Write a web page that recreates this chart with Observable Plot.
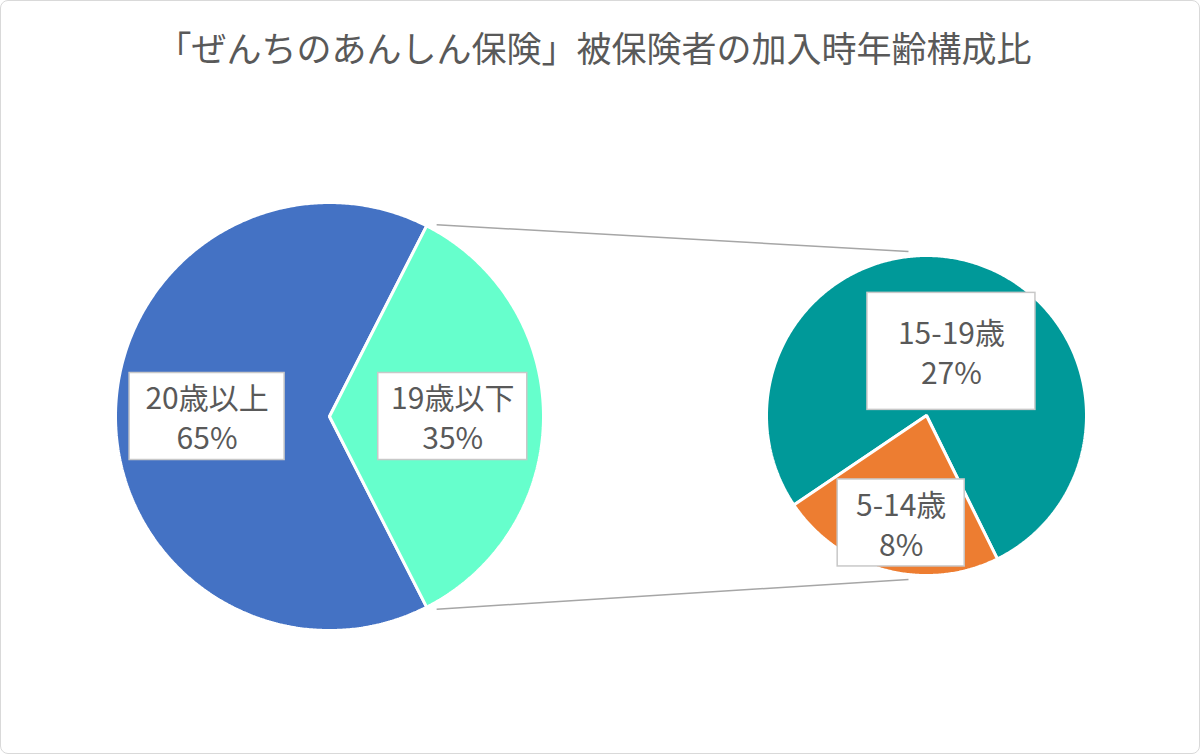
<!DOCTYPE html>
<html><head><meta charset="utf-8">
<script src="https://cdn.jsdelivr.net/npm/d3@7"></script>
<script src="https://cdn.jsdelivr.net/npm/@observablehq/plot@0.6"></script>
<style>
body{margin:0;background:#fff;}
#chart{position:relative;width:1200px;height:754px;box-sizing:border-box;border:1.5px solid #d9d9d9;border-radius:8px;overflow:hidden;font-family:"Noto Sans CJK JP",sans-serif;background:#fff;}
#title{position:absolute;top:0;left:0;width:100%;box-sizing:border-box;padding-right:12px;height:92px;line-height:92px;text-align:center;font-size:35px;color:#595959;white-space:nowrap;}
#plot{position:absolute;top:100px;left:0;}
</style></head><body>
<div id="chart"><div id="title">「ぜんちのあんしん保険」被保険者の加入時年齢構成比</div><div id="plot"></div></div>
<script>
// ---- data ----
const mainLabels = ["20歳以上", "19歳以下"];
const mainValues = [65, 35];
const subLabels = ["15-19歳", "5-14歳"];
const subValues = [27, 8];

// ---- styles / layout ----
const mainColors = ["#4472C4", "#66FFCC"];
const subColors = ["#009999", "#ED7D31"];
const TOP = 100, W = 1198, H = 652;
const pieA = {cx: 328, cy: 415 - TOP, r: 214};
const pieB = {cx: 925, cy: 414 - TOP, r: 160, start: 236};
const mainLabelLayout = [{frac: 0.572, dAngle: 0, w: 155, h: 87}, {frac: 0.576, dAngle: 0, w: 149, h: 87}];
const subLabelLayout = [{frac: 0.43, dAngle: 6.4, w: 168, h: 117}, {frac: 0.69, dAngle: -1.6, w: 127, h: 87}];

const rad = a => a * Math.PI / 180;
const px = (p, a, r) => p.cx + r * Math.sin(rad(a));
const py = (p, a, r) => p.cy - r * Math.cos(rad(a));

function slices(labels, values, colors, pie, start, total) {
  let a = start;
  return labels.map((label, i) => {
    const span = values[i] / total * 360;
    const s = {label, value: values[i], color: colors[i], a0: a, a1: a + span, pie};
    a += span;
    return s;
  });
}
const mainTotal = d3.sum(mainValues);
const subTotal = d3.sum(subValues);
// the "other" (last) slice of the main pie is centered on the right side (90°)
const otherSpan = mainValues[1] / mainTotal * 360;
const mainSlices = slices(mainLabels, mainValues, mainColors, pieA, 90 + otherSpan / 2, mainTotal);
const subSlices = slices(subLabels, subValues, subColors, pieB, pieB.start, subTotal);
const allSlices = mainSlices.concat(subSlices);

const arcPts = [];
allSlices.forEach((s, k) => {
  const p = s.pie;
  arcPts.push({key: k, color: s.color, x: p.cx, y: p.cy});
  const n = Math.ceil((s.a1 - s.a0) / 0.5);
  for (let j = 0; j <= n; j++) {
    const a = s.a0 + (s.a1 - s.a0) * j / n;
    arcPts.push({key: k, color: s.color, x: px(p, a, p.r), y: py(p, a, p.r)});
  }
});

const other = mainSlices[1];
const links = [other.a0, other.a1].map((a, i) => ({
  x1: px(pieA, a, pieA.r) + 10, y1: py(pieA, a, pieA.r) - (i === 0 ? 1 : -2),
  x2: pieB.cx - 18, y2: pieB.cy + (i === 0 ? -1 : 1) * (pieB.r + 4)
}));

const labels = [];
mainSlices.forEach((s, i) => labels.push({...s, ...mainLabelLayout[i], value: s.value}));
subSlices.forEach((s, i) => labels.push({...s, ...subLabelLayout[i], value: s.value}));
labels.forEach(l => {
  const m = (l.a0 + l.a1) / 2 + l.dAngle;
  l.x = px(l.pie, m, l.frac * l.pie.r);
  l.y = py(l.pie, m, l.frac * l.pie.r);
});

const chart = Plot.plot({
  width: W, height: H,
  margin: 0,
  x: {type: "identity", axis: null},
  y: {type: "identity", axis: null},
  color: {type: "identity"},
  style: {background: "transparent", fontFamily: "'Noto Sans CJK JP', sans-serif"},
  marks: [
    Plot.link(links, {x1: "x1", y1: "y1", x2: "x2", y2: "y2", stroke: "#a6a6a6", strokeWidth: 1.5}),
    Plot.line(arcPts, {x: "x", y: "y", z: "key", fill: "color", stroke: "white", strokeWidth: 3, strokeLinejoin: "miter", curve: "linear-closed"}),
    Plot.rect(labels, {x1: d => d.x - d.w / 2, x2: d => d.x + d.w / 2, y1: d => d.y - d.h / 2, y2: d => d.y + d.h / 2, fill: "white", stroke: "#c8c8c8", strokeWidth: 1.5}),
    Plot.text(labels, {x: "x", y: "y", text: d => `${d.label}\n${d.value}%`, fontSize: 30, lineHeight: 1.34, fill: "#595959"})
  ]
});
document.getElementById("plot").appendChild(chart);
</script>
</body></html>
